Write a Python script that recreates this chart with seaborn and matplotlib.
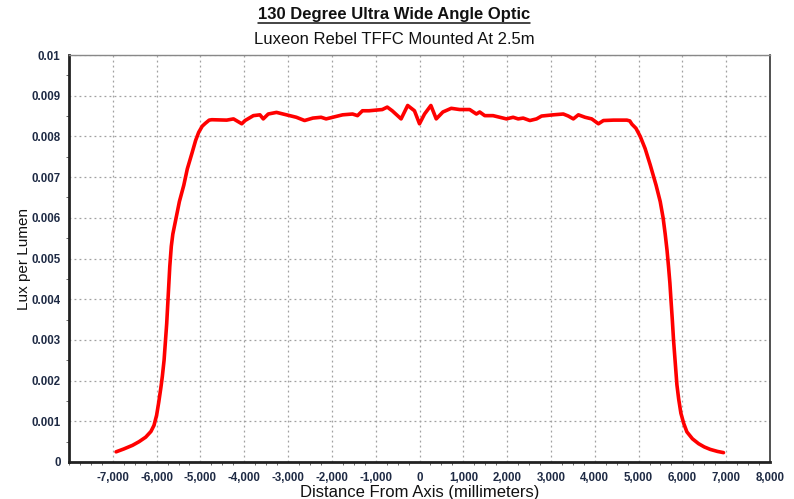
import matplotlib
matplotlib.use("Agg")
import matplotlib.pyplot as plt
from matplotlib.ticker import FuncFormatter, MultipleLocator
from matplotlib.lines import Line2D
import seaborn as sns

# distance from axis (mm) and lux per lumen
distance_mm = [
    -6925, -6750, -6550, -6400, -6250, -6130, -6060, -6000, -5950, -5900,
    -5870, -5830, -5800, -5770, -5745, -5720, -5700, -5665, -5630, -5555,
    -5480, -5380, -5300, -5190, -5110, -5040, -4960, -4890, -4800, -4740,
    -4400, -4245, -4057, -3981, -3792, -3642, -3566, -3453, -3264, -3038,
    -2811, -2623, -2434, -2245, -2132, -1981, -1755, -1528, -1415, -1302,
    -1151, -849, -736, -623, -420, -270, -115, 0, 115, 260,
    382, 534, 725, 916, 1145, 1298, 1374, 1489, 1679, 1832,
    1985, 2137, 2252, 2366, 2519, 2672, 2786, 3053, 3282, 3397,
    3511, 3626, 3779, 3931, 4084, 4198, 4427, 4733, 4800, 4848,
    4940, 5038, 5150, 5266, 5400, 5494, 5560, 5608, 5650, 5684,
    5715, 5745, 5770, 5798, 5840, 5875, 5915, 5966, 6030, 6103,
    6230, 6370, 6500, 6635, 6800, 6939,
]
lux_per_lumen = [
    0.00025, 0.00032, 0.00041, 0.00050, 0.00061, 0.00075, 0.00090, 0.00115, 0.00148, 0.00185,
    0.00210, 0.00250, 0.00295, 0.00340, 0.00390, 0.00440, 0.00480, 0.00530, 0.00560, 0.00600,
    0.00640, 0.00680, 0.00720, 0.00760, 0.00790, 0.00810, 0.00825, 0.00832, 0.00840, 0.00841,
    0.00840, 0.00843, 0.00831, 0.00839, 0.00851, 0.00853, 0.00843, 0.00855, 0.00859, 0.00853,
    0.00847, 0.00839, 0.00845, 0.00847, 0.00843, 0.00847, 0.00853, 0.00855, 0.00851, 0.00863,
    0.00863, 0.00866, 0.00872, 0.00863, 0.00843, 0.00876, 0.00863, 0.00831, 0.00855, 0.00876,
    0.00843, 0.00860, 0.00869, 0.00866, 0.00866, 0.00855, 0.00860, 0.00851, 0.00851, 0.00847,
    0.00843, 0.00847, 0.00843, 0.00845, 0.00839, 0.00843, 0.00850, 0.00853, 0.00855, 0.00850,
    0.00843, 0.00853, 0.00847, 0.00843, 0.00831, 0.00839, 0.00840, 0.00840, 0.00838, 0.00830,
    0.00820, 0.00800, 0.00770, 0.00730, 0.00680, 0.00640, 0.00600, 0.00560, 0.00520, 0.00480,
    0.00440, 0.00390, 0.00350, 0.00300, 0.00240, 0.00190, 0.00155, 0.00120, 0.00095, 0.00074,
    0.00057, 0.00045, 0.00037, 0.00031, 0.00026, 0.00023,
]

x_ticks = [-7000, -6000, -5000, -4000, -3000, -2000, -1000, 0,
           1000, 2000, 3000, 4000, 5000, 6000, 7000, 8000]
y_ticks = [0, 0.001, 0.002, 0.003, 0.004, 0.005, 0.006, 0.007, 0.008, 0.009, 0.01]

title = "130 Degree Ultra Wide Angle Optic"
subtitle = "Luxeon Rebel TFFC Mounted At 2.5m"

sns.set_style("white")
plt.rcParams["font.family"] = ["Liberation Sans", "DejaVu Sans"]

fig = plt.figure(figsize=(7.94, 4.99), dpi=100)
ax = fig.add_axes([69 / 794, 1 - 462 / 499, 701 / 794, 407 / 499])

sns.lineplot(x=distance_mm, y=lux_per_lumen, color="#ff0000", linewidth=2.6,
             sort=False, ax=ax)

ax.set_xlim(-8000, 8000)
ax.set_ylim(0, 0.01)
ax.set_xticks(x_ticks)
ax.set_yticks(y_ticks)
ax.xaxis.set_minor_locator(MultipleLocator(250))
ax.yaxis.set_minor_locator(MultipleLocator(0.0005))
ax.xaxis.set_major_formatter(FuncFormatter(lambda v, p: f"{int(v):,}"))
ax.yaxis.set_major_formatter(FuncFormatter(lambda v, p: f"{round(v, 3):g}"))

tick_color = "#1e2a44"
ax.tick_params(axis="both", which="major", direction="out", length=4, width=0.8,
               color="#333333", labelsize=8.3, labelcolor=tick_color)
ax.tick_params(axis="y", which="major", pad=2)
ax.tick_params(axis="x", which="major", pad=3)
ax.tick_params(axis="both", which="minor", direction="out", length=2, width=0.6,
               color="#555555", bottom=True, left=True)
for lbl in ax.get_xticklabels() + ax.get_yticklabels():
    lbl.set_fontweight("bold")

ax.grid(True, which="major", linestyle=(0, (1.5, 2.5)), color="#a0a0a0", linewidth=0.9)

ax.spines["left"].set_color("#222222")
ax.spines["left"].set_linewidth(2)
ax.spines["bottom"].set_color("#222222")
ax.spines["bottom"].set_linewidth(2)
ax.spines["top"].set_color("#888888")
ax.spines["top"].set_linewidth(1)
ax.spines["right"].set_color("#333333")
ax.spines["right"].set_linewidth(1.2)

ax.set_xlabel("Distance From Axis (millimeters)", fontsize=12, color="#111111", labelpad=1)
ax.set_ylabel("Lux per Lumen", fontsize=11, color="#111111")
ax.yaxis.set_label_coords(-0.054, 0.5)

t = fig.text(0.496, 1 - 15 / 499, title, ha="center", va="center",
             fontsize=12, fontweight="bold", color="#111111")
fig.text(0.496, 1 - 40 / 499, subtitle, ha="center", va="center",
         fontsize=12, color="#111111")

# underline the title
fig.canvas.draw()
bb = t.get_window_extent().transformed(fig.transFigure.inverted())
fig.add_artist(Line2D([bb.x0, bb.x1], [bb.y0 - 0.002, bb.y0 - 0.002],
                      transform=fig.transFigure, color="#111111", linewidth=1.1))

fig.savefig("out.png", dpi=100)
